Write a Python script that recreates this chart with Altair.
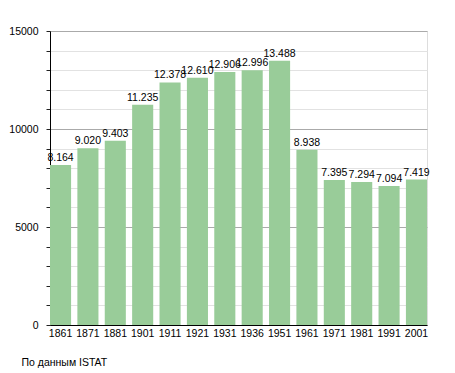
import altair as alt
import pandas as pd

years = ["1861", "1871", "1881", "1901", "1911", "1921", "1931", "1936",
         "1951", "1961", "1971", "1981", "1991", "2001"]
population = [8164, 9020, 9403, 11235, 12378, 12610, 12906, 12996,
              13488, 8938, 7395, 7294, 7094, 7419]
labels = ["8.164", "9.020", "9.403", "11.235", "12.378", "12.610", "12.906",
          "12.996", "13.488", "8.938", "7.395", "7.294", "7.094", "7.419"]
y_ticks = list(range(0, 15001, 1000))
source = "По данным  ISTAT"

df = pd.DataFrame({"year": years, "pop": population, "label": labels})

FONT = "Liberation Sans"
FS = 10.5

x = alt.X("year:N", sort=years,
          scale=alt.Scale(paddingInner=0.23, paddingOuter=0),
          axis=alt.Axis(title=source, labelAngle=0, ticks=False,
                        domainColor="#000", labelColor="#000",
                        labelFont=FONT, labelFontSize=FS, labelPadding=3,
                        labelOverlap=False,
                        titleFont=FONT, titleFontSize=FS, titleFontWeight="normal",
                        titleColor="#000", titleX=-29, titleY=37,
                        titleAlign="left", titleBaseline="middle",
                        titleAnchor="start"))
y = alt.Y("pop:Q", scale=alt.Scale(domain=[0, 15000], nice=False),
          axis=alt.Axis(title=None, values=y_ticks,
                        labelExpr="datum.value % 5000 === 0 ? datum.value : ''",
                        labelOverlap=False,
                        grid=True,
                        gridColor=alt.condition("datum.value % 5000 === 0",
                                                alt.value("#aaaaaa"), alt.value("#e2e2e2")),
                        tickColor="#222", tickSize=4, domainColor="#000",
                        labelColor="#000", labelFont=FONT, labelFontSize=FS,
                        labelPadding=8))

base = alt.Chart(df).encode(x=x, y=y)
bars = base.mark_bar(color="#99cc99")
text = base.mark_text(font=FONT, fontSize=FS, color="#000",
                      baseline="alphabetic", dy=-4).encode(text="label:N")

chart = (bars + text).properties(
    width=377, height=294,
    autosize=alt.AutoSizeParams(type="none"),
    padding={"left": 42, "top": 23, "right": 20, "bottom": 46},
).configure_view(stroke=None).configure(background="white")

chart.save("out.html", embed_options={"renderer": "svg", "actions": False})
